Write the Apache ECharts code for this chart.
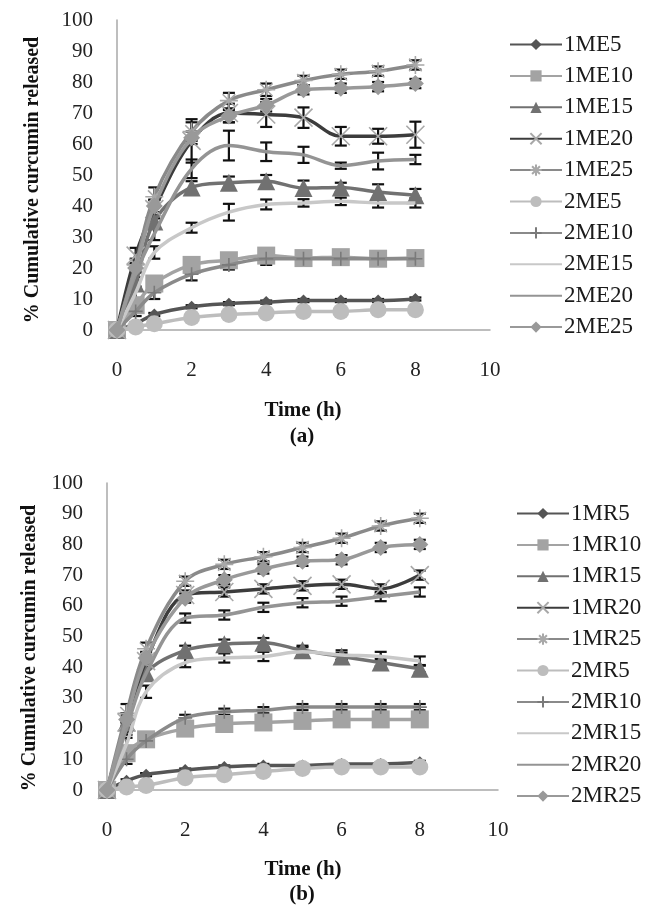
<!DOCTYPE html>
<html><head><meta charset="utf-8">
<script src="https://cdn.jsdelivr.net/npm/echarts@6/dist/echarts.min.js"></script>
<style>html,body{margin:0;padding:0;background:#fff}#c{width:648px;height:909px}</style>
</head><body><div id="c"></div>
<script>
// ---------- DATA ----------
const timeH = [0, 0.5, 1, 2, 3, 4, 5, 6, 7, 8];
const xTicks = [0, 2, 4, 6, 8, 10];
const yTicks = [0, 10, 20, 30, 40, 50, 60, 70, 80, 90, 100];
const namesA = ['1ME5','1ME10','1ME15','1ME20','1ME25','2ME5','2ME10','2ME15','2ME20','2ME25'];
const namesB = ['1MR5','1MR10','1MR15','1MR20','1MR25','2MR5','2MR10','2MR15','2MR20','2MR25'];

// panel (a) means
const a1ME5  = [0, 2, 5, 7.5, 8.5, 9, 9.5, 9.5, 9.5, 10];
const a1ME10 = [0, 8, 15, 21, 22.5, 24, 23.2, 23.5, 23, 23.2];
const a1ME15 = [0, 15, 35, 46, 47.5, 48, 45.8, 46, 44.5, 43.5];
const a1ME20 = [0, 24, 39, 61, 70, 69.5, 68.5, 62.5, 62.5, 63];
const a1ME25 = [0, 21, 43, 64, 74, 77.5, 80.5, 82.5, 83.5, 85.5];
const a2ME5  = [0, 1, 2, 4, 5, 5.5, 6, 6, 6.5, 6.5];
const a2ME10 = [0, 6, 12, 18, 21, 23, 23, 23, 23, 23];
const a2ME15 = [0, 12, 25, 33, 38, 40.5, 41, 41.5, 41, 41];
const a2ME20 = [0, 18, 31, 52, 59.5, 57.5, 56.5, 53, 54.5, 55];
const a2ME25 = [0, 20, 40, 62, 69, 72.5, 77.5, 78, 78.5, 79.5];
// panel (a) standard deviations
const e1ME5  = [0, 0.5, 0.5, 0.5, 0.5, 0.5, 0.5, 0.5, 0.5, 0.5];
const e1ME10 = [0, 1, 1.5, 1.5, 1.5, 1.5, 1, 1, 1, 1];
const e1ME15 = [0, 2, 2, 2, 2, 2, 2.4, 1.5, 2.5, 2];
const e1ME20 = [0, 2.5, 3, 7, 3, 4, 3.3, 3, 2.4, 4.2];
const e1ME25 = [0, 2, 3, 3, 2.5, 2, 1.5, 1.5, 1.5, 1.5];
const e2ME5  = [0, 0.3, 0.5, 0.5, 0.5, 0.5, 0.5, 0.5, 0.5, 0.5];
const e2ME10 = [0, 1.5, 2, 2, 1.5, 2, 1, 1, 1, 1];
const e2ME15 = [0, 2, 2, 1.6, 2.7, 1.6, 1.2, 1.2, 1.5, 1.5];
const e2ME20 = [0, 2, 2, 3, 4.8, 3, 2.6, 1, 2.7, 1.5];
const e2ME25 = [0, 1.5, 2, 2, 2, 2, 1.5, 1.5, 1.5, 1.5];

// panel (b) means
const b1MR5  = [0, 3, 5, 6.5, 7.5, 8, 8, 8.5, 8.5, 9];
const b1MR10 = [0, 12, 16.5, 20, 21.5, 22, 22.5, 23, 23, 23];
const b1MR15 = [0, 22, 38, 45.5, 47.5, 48, 45.5, 43.5, 41.5, 39.5];
const b1MR20 = [0, 22, 42, 63.5, 64.5, 65.5, 66.5, 67, 65.5, 70];
const b1MR25 = [0, 25, 46, 68, 73.5, 76, 79, 82, 86, 88.5];
const b2MR5  = [0, 1, 1.5, 4, 5, 6, 7, 7.5, 7.5, 7.5];
const b2MR10 = [0, 10, 16, 23.5, 25.5, 26, 27, 27, 27, 27];
const b2MR15 = [0, 15, 32, 41.5, 43, 43.5, 45, 44, 43.5, 42];
const b2MR20 = [0, 20, 38, 56, 57, 59.5, 61, 61.5, 63, 64.5];
const b2MR25 = [0, 23, 43, 62.5, 68.5, 72, 74.5, 75, 79, 80];
// panel (b) standard deviations
const f1MR5  = [0, 0.5, 0.5, 0.5, 0.5, 0.5, 0.5, 0.5, 0.5, 0.5];
const f1MR10 = [0, 2, 1, 1, 1, 1, 1, 1, 1, 1];
const f1MR15 = [0, 2, 2, 1.5, 1.5, 1.5, 1.5, 1.2, 1.2, 1.2];
const f1MR20 = [0, 3, 2, 1.5, 1.5, 1.5, 1.5, 1.5, 1.5, 1.5];
const f1MR25 = [0, 3, 2, 1.5, 1.5, 1.5, 1.5, 1.5, 1.5, 1.5];
const f2MR5  = [0, 0.3, 0.3, 0.5, 0.5, 0.5, 0.5, 0.5, 0.5, 0.5];
const f2MR10 = [0, 1.5, 1, 1, 1, 1, 1, 1, 1, 1];
const f2MR15 = [0, 2, 2, 1.5, 1.5, 1.5, 1.5, 1.5, 1.5, 1.5];
const f2MR20 = [0, 2, 2, 1.5, 1.5, 1.5, 1.5, 1.5, 1.5, 1.5];
const f2MR25 = [0, 2, 2, 1.5, 1.5, 1.5, 1.5, 1.5, 1.5, 1.5];

const meansA = [a1ME5, a1ME10, a1ME15, a1ME20, a1ME25, a2ME5, a2ME10, a2ME15, a2ME20, a2ME25];
const errsA  = [e1ME5, e1ME10, e1ME15, e1ME20, e1ME25, e2ME5, e2ME10, e2ME15, e2ME20, e2ME25];
const meansB = [b1MR5, b1MR10, b1MR15, b1MR20, b1MR25, b2MR5, b2MR10, b2MR15, b2MR20, b2MR25];
const errsB  = [f1MR5, f1MR10, f1MR15, f1MR20, f1MR25, f2MR5, f2MR10, f2MR15, f2MR20, f2MR25];

// ---------- STYLE ----------
const SYM_X = 'path://M0,0L10,10M10,0L0,10';
const SYM_AST = 'path://M0,5L10,5M5,0L5,10M1.5,1.5L8.5,8.5M8.5,1.5L1.5,8.5';
const SYM_PLUS = 'path://M0,5L10,5M5,0L5,10';
const styles = [
  {line:'#555555', sym:'diamond', size:12, fill:'#555555'},
  {line:'#a3a3a3', sym:'rect', size:18, fill:'#a3a3a3'},
  {line:'#717171', sym:'triangle', size:18, fill:'#717171'},
  {line:'#3c3c3c', sym:SYM_X, size:18, fill:'#a8a8a8', stroke:'#a8a8a8'},
  {line:'#8a8a8a', sym:SYM_AST, size:18, fill:'#a8a8a8', stroke:'#a8a8a8'},
  {line:'#bdbdbd', sym:'circle', size:17, fill:'#bdbdbd'},
  {line:'#8a8a8a', sym:SYM_PLUS, size:14, fill:'#7a7a7a', stroke:'#7a7a7a'},
  {line:'#c8c8c8', sym:'none'},
  {line:'#949494', sym:'none'},
  {line:'#999999', sym:'diamond', size:17, fill:'#999999'}
];
const FONT = 'Liberation Serif';

function errRender(params, api) {
  const x = api.value(0), lo = api.value(1), hi = api.value(2);
  if (hi - lo <= 0) return null;
  const p1 = api.coord([x, hi]), p2 = api.coord([x, lo]);
  const w = 6, st = {stroke:'#111', lineWidth:2.2};
  return {type:'group', children:[
    {type:'line', shape:{x1:p1[0], y1:p1[1], x2:p2[0], y2:p2[1]}, style:st},
    {type:'line', shape:{x1:p1[0]-w, y1:p1[1], x2:p1[0]+w, y2:p1[1]}, style:st},
    {type:'line', shape:{x1:p2[0]-w, y1:p2[1], x2:p2[0]+w, y2:p2[1]}, style:st}
  ]};
}

const series = [];
function addPanel(names, means, errs, idx) {
  names.forEach((nm, i) => {
    series.push({
      type:'custom', name: nm + '_err', xAxisIndex: idx, yAxisIndex: idx,
      renderItem: errRender, z: 1, silent: true,
      encode: {x: 0, y: [1, 2]},
      data: timeH.map((t, k) => [t, means[i][k] - errs[i][k], means[i][k] + errs[i][k]])
    });
  });
  names.forEach((nm, i) => {
    const st = styles[i];
    series.push({
      type:'line', name: nm, xAxisIndex: idx, yAxisIndex: idx, z: 2 + i * 0.01,
      smooth: 0.35,
      data: timeH.map((t, k) => [t, means[i][k]]),
      lineStyle: {color: st.line, width: 3.5},
      color: st.line,
      symbol: st.sym,
      showSymbol: st.sym !== 'none',
      symbolSize: st.size || 0,
      itemStyle: {color: st.fill || st.line, borderColor: st.stroke || st.fill || st.line, borderWidth: st.stroke ? 1.6 : 0}
    });
  });
}
addPanel(namesA, meansA, errsA, 0);
addPanel(namesB, meansB, errsB, 1);

const axisLineStyle = {show:true, lineStyle:{color:'#a8a8a8', width:1.5}};
function xAx(i) {
  return {type:'value', gridIndex:i, min:xTicks[0], max:xTicks[xTicks.length-1], interval:2,
    axisLine: axisLineStyle, axisTick:{show:false}, splitLine:{show:false},
    axisLabel:{fontFamily:FONT, fontSize:21, color:'#222', margin:30}};
}
function yAx(i) {
  return {type:'value', gridIndex:i, min:yTicks[0], max:yTicks[yTicks.length-1], interval:10,
    axisLine: axisLineStyle, axisTick:{show:false}, splitLine:{show:false},
    axisLabel:{fontFamily:FONT, fontSize:21, color:'#222', margin:24}};
}
function legend(names, left, top) {
  return {
    data: names.map((n, i) => styles[i].sym === 'none' ? {name:n, itemStyle:{opacity:0}} : {name:n}),
    orient:'vertical', left:left, top:top, itemWidth:52, itemHeight:14, itemGap:8.4,
    textStyle:{fontFamily:FONT, fontSize:23, color:'#1a1a1a', padding:[0,0,0,-3]}, selectedMode:false};
}

const chart = echarts.init(document.getElementById('c'), null, {renderer:'canvas'});
chart.setOption({
  animation:false,
  backgroundColor:'#fff',
  grid:[
    {left:117, top:20, width:373, height:310},
    {left:107, top:483, width:391, height:307}
  ],
  xAxis:[xAx(0), xAx(1)],
  yAxis:[yAx(0), yAx(1)],
  legend:[legend(namesA, 504, 28), legend(namesB, 511, 497)],
  series: series,
  graphic:[
    {type:'text', x:33, y:180, rotation:Math.PI/2, style:{text:'% Cumulative curcumin released', font:'bold 20px "Liberation Serif"', fill:'#111', textAlign:'center', textVerticalAlign:'middle'}},
    {type:'text', x:30, y:648, rotation:Math.PI/2, style:{text:'% Cumulative curcumin released', font:'bold 20px "Liberation Serif"', fill:'#111', textAlign:'center', textVerticalAlign:'middle'}},
    {type:'text', x:303, y:411, style:{text:'Time (h)', font:'bold 21px "Liberation Serif"', fill:'#111', textAlign:'center', textVerticalAlign:'middle'}},
    {type:'text', x:302, y:437, style:{text:'(a)', font:'bold 21px "Liberation Serif"', fill:'#111', textAlign:'center', textVerticalAlign:'middle'}},
    {type:'text', x:303, y:870, style:{text:'Time (h)', font:'bold 21px "Liberation Serif"', fill:'#111', textAlign:'center', textVerticalAlign:'middle'}},
    {type:'text', x:302, y:895, style:{text:'(b)', font:'bold 21px "Liberation Serif"', fill:'#111', textAlign:'center', textVerticalAlign:'middle'}}
  ]
});
</script></body></html>
